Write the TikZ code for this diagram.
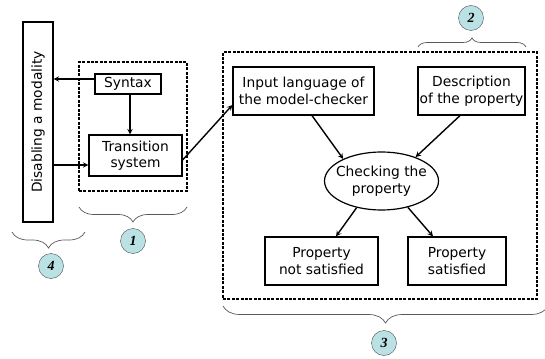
\documentclass[tikz,border=0pt]{standalone}
\usepackage{fontspec}
\setmainfont{DejaVu Sans}
\newfontfamily\numfont{Liberation Serif}
\usepackage{tikz}
\usetikzlibrary{shapes,arrows,decorations.pathreplacing}
\definecolor{numfill}{RGB}{186,226,228}
\newcommand\boxfont{\fontsize{13.8}{16.5}\selectfont}

\begin{document}
\begin{tikzpicture}[x=1pt,y=-1pt,>=stealth,
  box/.style={draw,line width=1.2pt,align=center,inner sep=1pt,font=\boxfont},
  grp/.style={draw,line width=1.6pt,dash pattern=on 3pt off 1.4pt},
  num/.style={circle,draw=black!70,fill=numfill,minimum size=25pt,inner sep=0pt,font=\numfont\fontsize{14}{14}\selectfont\bfseries\itshape},
  brc/.style={decorate,decoration={brace,amplitude=#1},draw=black!65,line width=0.7pt},
  arr/.style={->,line width=1.4pt}]
\useasboundingbox (0,0) rectangle (545,358);

% dashed groups
\node [grp,minimum width=108pt,minimum height=129pt] (grpa) at (133,126.5) {};
\node [grp,minimum width=314pt,minimum height=247pt] (grpb) at (380,175.5) {};

% left part
\node [box,minimum width=30pt,minimum height=200pt] (dis) at (38,122) {};
\node [rotate=90,font=\boxfont] (dislbl) at (dis) {Disabling a modality};
\node [box,minimum width=66pt,minimum height=20pt] (syn) at (128,84) {Syntax};
\node [box,minimum width=93pt,minimum height=41pt] (trs) at (135.5,155.5) {Transition\\system};

% model-checker part
\node [box,minimum width=141pt,minimum height=48pt] (inp) at (303.5,91) {Input language of\\the model-checker};
\node [box,minimum width=107pt,minimum height=48pt] (desc) at (471.5,91) {Description\\of the property};
\node [box,ellipse,minimum width=114pt,minimum height=58pt,inner sep=0pt] (chk) at (381.5,181) {};
\node [align=center,font=\boxfont] (chklbl) at (chk) {Checking the\\property};
\node [box,minimum width=113pt,minimum height=48pt] (nsat) at (321.5,261) {Property\\not satisfied};
\node [box,minimum width=98pt,minimum height=48pt] (sat) at (457,261) {Property\\satisfied};

% arrows
\draw [arr] ([yshift=5pt]syn.west) -- ([yshift=5pt]syn.west -| dis.east);
\draw [arr] ([xshift=2pt]syn.south) -- ([xshift=2pt]syn.south |- trs.north);
\draw [arr] ([yshift=-9.5pt]trs.west -| dis.east) -- ([yshift=-9.5pt]trs.west);
\draw [arr] ([yshift=-4.5pt]trs.east) -- ([yshift=-14pt]inp.west);
\draw [arr] ([xshift=8.5pt]inp.south) -- (chk.150);
\draw [arr] ([xshift=-11.5pt]desc.south) -- (chk.35);
\draw [arr] (chk.227) -- ([xshift=14.5pt]nsat.north);
\draw [arr] (chk.-45) -- ([xshift=-24pt]sat.north);

% braces and numbers
\draw [brc=15pt] (187,207) -- (79,207);
\draw [brc=16pt] (85,232) -- (12,232);
\draw [brc=17pt] (548,306) -- (223,306);
\draw [brc=9pt] (418,47) -- (526,47);
\node [num] (na) at (133,241) {1};
\node [num] (nb) at (471,18) {2};
\node [num] (nc) at (384,343) {3};
\node [num] (nd) at (51,266) {4};
\end{tikzpicture}
\end{document}
